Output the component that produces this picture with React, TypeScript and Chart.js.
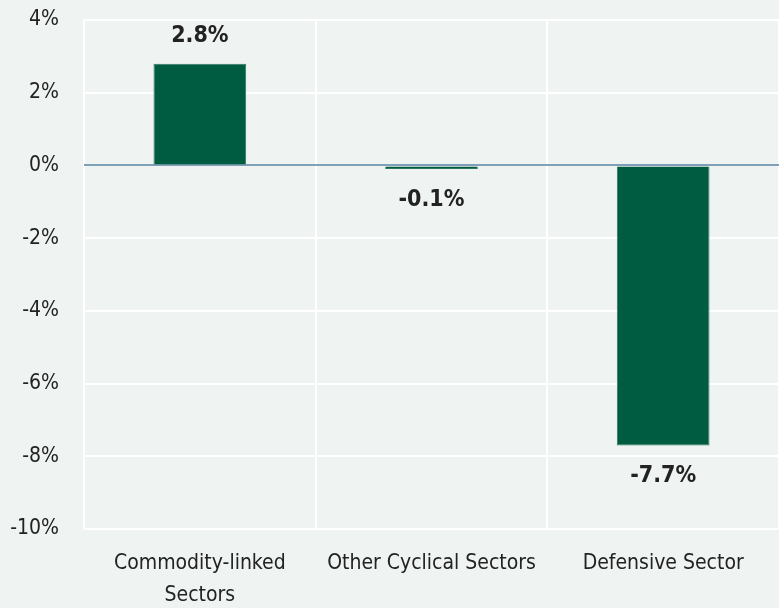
import React, { useEffect, useRef } from "react";
import { Chart, registerables } from "chart.js";

Chart.register(...registerables);

const categories: (string | string[])[] = [
  ["Commodity-linked", "Sectors"],
  "Other Cyclical Sectors",
  "Defensive Sector",
];
const returns: number[] = [2.8, -0.1, -7.7];
const valueLabels: string[] = ["2.8%", "-0.1%", "-7.7%"];

const FONT = "'DejaVu Sans Condensed', 'Liberation Sans Narrow', 'Open Sans', sans-serif";
const BG = "#eff3f2";
const BAR = "#005c41";
const TEXT = "#222222";

const backgroundPlugin = {
  id: "bgFill",
  beforeDraw(chart: Chart) {
    const { ctx, width, height } = chart;
    ctx.save();
    ctx.fillStyle = BG;
    ctx.fillRect(0, 0, width, height);
    ctx.restore();
  },
};

const valueLabelPlugin = {
  id: "valueLabels",
  afterDatasetsDraw(chart: Chart) {
    const { ctx } = chart;
    const meta = chart.getDatasetMeta(0);
    ctx.save();
    ctx.font = `bold 23px ${FONT}`;
    ctx.fillStyle = TEXT;
    ctx.textAlign = "center";
    ctx.textBaseline = "middle";
    meta.data.forEach((el: any, i: number) => {
      const v = returns[i];
      const y = v >= 0 ? el.y - 28 : el.y + 31;
      ctx.fillText(valueLabels[i], el.x, y);
    });
    ctx.restore();
  },
};

export default function App() {
  const ref = useRef<HTMLCanvasElement>(null);

  useEffect(() => {
    document.body.style.margin = "0";
    const chart = new Chart(ref.current!, {
      type: "bar",
      data: {
        labels: categories,
        datasets: [
          {
            data: returns,
            backgroundColor: BAR,
            borderColor: "#2f7a5e",
            borderWidth: 1,
            barPercentage: 0.4,
            categoryPercentage: 1,
          },
        ],
      },
      options: {
        animation: false,
        responsive: false,
        layout: { padding: { top: 20, right: 0, left: 0, bottom: 0 } },
        plugins: {
          legend: { display: false },
          tooltip: { enabled: false },
        },
        scales: {
          x: {
            grid: {
              color: "#ffffff",
              lineWidth: 2,
              drawTicks: false,
              offset: true,
            },
            border: { display: false },
            ticks: {
              color: TEXT,
              font: { family: FONT, size: 21, lineHeight: 1.55 },
              padding: 18,
              maxRotation: 0,
              autoSkip: false,
            },
            afterFit(scale: any) {
              scale.height = 79;
            },
          },
          y: {
            min: -10,
            max: 4,
            grid: {
              color: (c: any) => (c.tick && c.tick.value === 0 ? "#7fa0b6" : "#ffffff"),
              lineWidth: 2,
              drawTicks: false,
            },
            border: { display: false },
            ticks: {
              stepSize: 2,
              color: TEXT,
              padding: 25,
              font: { family: FONT, size: 21 },
              callback: (v: any) => `${v}%`,
            },
            afterFit(scale: any) {
              scale.width = 84;
              scale.paddingTop = 12;
              scale.paddingBottom = 12;
            },
          },
        },
      },
      plugins: [backgroundPlugin, valueLabelPlugin],
    });
    return () => chart.destroy();
  }, []);

  return (
    <div style={{ width: 779, height: 608 }}>
      <canvas ref={ref} width={779} height={608} />
    </div>
  );
}
